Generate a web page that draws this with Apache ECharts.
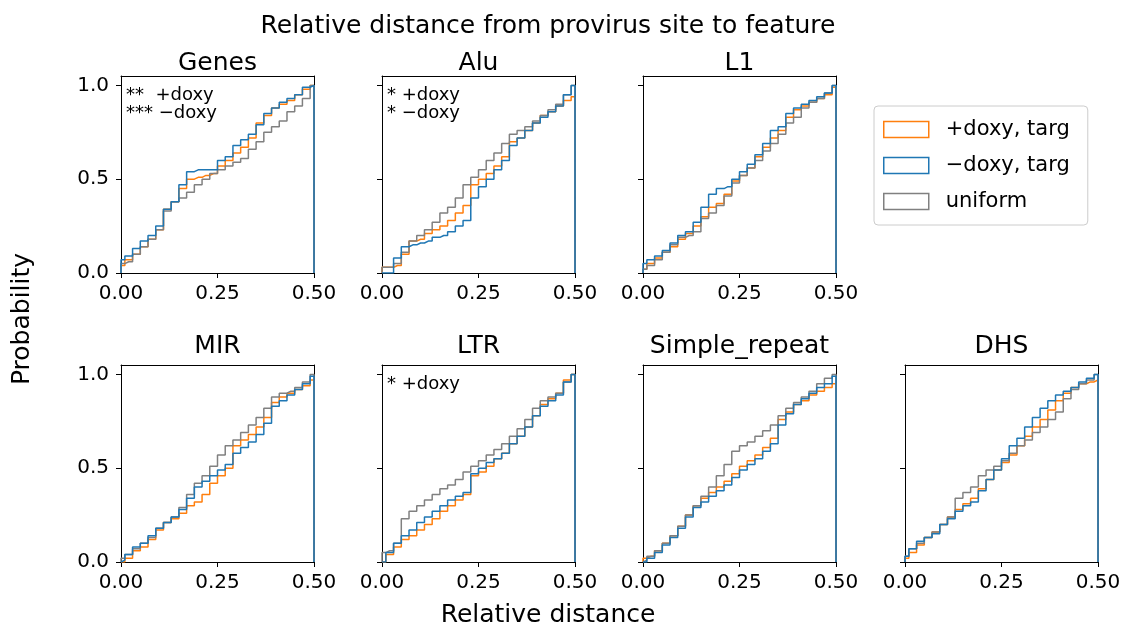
<!DOCTYPE html>
<html>
<head>
<meta charset="utf-8">
<title>Relative distance from provirus site to feature</title>
<script src="https://cdn.jsdelivr.net/npm/echarts@6/dist/echarts.min.js"></script>
<style>
html, body { margin: 0; padding: 0; background: #fff; }
#chart { width: 1131px; height: 628px; }
</style>
</head>
<body>
<div id="chart"></div>
<script>
// bin positions (relative distance) and axis ticks
const binX = [0.00, 0.02, 0.04, 0.06, 0.08, 0.10, 0.12, 0.14, 0.16, 0.18, 0.20, 0.22, 0.24,
              0.26, 0.28, 0.30, 0.32, 0.34, 0.36, 0.38, 0.40, 0.42, 0.44, 0.46, 0.48, 0.50];
const xTicks = [0, 0.25, 0.5];
const yTicks = [0, 0.5, 1.0];

const seriesNames = ['+doxy, targ', '\u2212doxy, targ', 'uniform'];

// cumulative probability per bin
const genesPlus    = [0.04, 0.07, 0.10, 0.14, 0.18, 0.23, 0.34, 0.38, 0.45, 0.50, 0.51, 0.52, 0.53, 0.57, 0.60, 0.64, 0.67, 0.72, 0.80, 0.84, 0.88, 0.90, 0.92, 0.95, 0.98, 1.00];
const genesMinus   = [0.07, 0.09, 0.13, 0.17, 0.20, 0.25, 0.34, 0.38, 0.47, 0.54, 0.55, 0.55, 0.55, 0.60, 0.62, 0.68, 0.71, 0.74, 0.79, 0.85, 0.88, 0.91, 0.93, 0.95, 0.99, 1.00];
const genesUniform = [0.05, 0.06, 0.10, 0.14, 0.18, 0.23, 0.33, 0.38, 0.40, 0.43, 0.47, 0.50, 0.53, 0.55, 0.57, 0.59, 0.61, 0.66, 0.70, 0.75, 0.78, 0.81, 0.86, 0.89, 0.93, 1.00];

const aluPlus    = [0.03, 0.03, 0.04, 0.10, 0.17, 0.18, 0.21, 0.23, 0.25, 0.28, 0.32, 0.36, 0.47, 0.50, 0.53, 0.57, 0.62, 0.70, 0.72, 0.76, 0.80, 0.84, 0.86, 0.89, 0.92, 0.94];
const aluMinus   = [0.00, 0.00, 0.08, 0.14, 0.15, 0.16, 0.17, 0.19, 0.20, 0.22, 0.25, 0.28, 0.40, 0.46, 0.50, 0.55, 0.60, 0.68, 0.72, 0.76, 0.80, 0.83, 0.86, 0.89, 0.95, 1.00];
const aluUniform = [0.03, 0.03, 0.05, 0.11, 0.17, 0.20, 0.23, 0.27, 0.32, 0.35, 0.40, 0.47, 0.51, 0.55, 0.60, 0.64, 0.69, 0.74, 0.76, 0.78, 0.81, 0.84, 0.87, 0.90, 0.95, 1.00];

const l1Plus    = [0.02, 0.05, 0.08, 0.11, 0.14, 0.18, 0.21, 0.25, 0.30, 0.35, 0.37, 0.42, 0.49, 0.52, 0.56, 0.62, 0.67, 0.72, 0.76, 0.83, 0.87, 0.89, 0.91, 0.93, 0.95, 0.99];
const l1Minus   = [0.05, 0.07, 0.09, 0.12, 0.16, 0.20, 0.22, 0.27, 0.35, 0.42, 0.45, 0.46, 0.50, 0.54, 0.58, 0.63, 0.69, 0.76, 0.78, 0.85, 0.88, 0.90, 0.92, 0.94, 0.96, 1.00];
const l1Uniform = [0.02, 0.04, 0.07, 0.11, 0.15, 0.19, 0.20, 0.22, 0.29, 0.32, 0.36, 0.41, 0.48, 0.52, 0.56, 0.60, 0.65, 0.69, 0.74, 0.80, 0.83, 0.88, 0.91, 0.93, 0.96, 1.00];

const mirPlus    = [0.00, 0.02, 0.06, 0.08, 0.12, 0.17, 0.21, 0.23, 0.26, 0.30, 0.32, 0.36, 0.42, 0.46, 0.50, 0.62, 0.65, 0.68, 0.72, 0.77, 0.85, 0.88, 0.90, 0.92, 0.94, 0.97];
const mirMinus   = [0.01, 0.04, 0.08, 0.10, 0.14, 0.18, 0.21, 0.24, 0.28, 0.34, 0.40, 0.43, 0.46, 0.49, 0.52, 0.58, 0.61, 0.64, 0.68, 0.74, 0.83, 0.86, 0.89, 0.92, 0.95, 0.99];
const mirUniform = [0.02, 0.04, 0.07, 0.10, 0.13, 0.18, 0.21, 0.24, 0.29, 0.36, 0.42, 0.46, 0.51, 0.57, 0.62, 0.65, 0.69, 0.73, 0.77, 0.82, 0.88, 0.90, 0.91, 0.93, 0.96, 1.00];

const ltrPlus    = [0.00, 0.04, 0.08, 0.12, 0.14, 0.17, 0.20, 0.23, 0.27, 0.30, 0.33, 0.36, 0.46, 0.48, 0.51, 0.55, 0.58, 0.63, 0.67, 0.72, 0.78, 0.84, 0.87, 0.90, 0.97, 1.00];
const ltrMinus   = [0.00, 0.05, 0.10, 0.14, 0.17, 0.21, 0.24, 0.27, 0.30, 0.33, 0.35, 0.37, 0.47, 0.50, 0.53, 0.55, 0.58, 0.63, 0.67, 0.72, 0.78, 0.83, 0.86, 0.89, 0.96, 1.00];
const ltrUniform = [0.05, 0.06, 0.10, 0.23, 0.27, 0.30, 0.33, 0.36, 0.39, 0.41, 0.44, 0.48, 0.51, 0.54, 0.57, 0.60, 0.63, 0.67, 0.71, 0.76, 0.82, 0.86, 0.88, 0.90, 0.96, 1.00];

const srPlus    = [0.02, 0.03, 0.06, 0.10, 0.14, 0.19, 0.25, 0.30, 0.34, 0.37, 0.40, 0.43, 0.47, 0.51, 0.54, 0.57, 0.61, 0.66, 0.76, 0.80, 0.84, 0.86, 0.89, 0.91, 0.93, 0.95];
const srMinus   = [0.00, 0.02, 0.05, 0.09, 0.13, 0.18, 0.24, 0.29, 0.32, 0.35, 0.38, 0.41, 0.45, 0.49, 0.52, 0.55, 0.59, 0.63, 0.73, 0.79, 0.84, 0.87, 0.90, 0.93, 0.95, 0.99];
const srUniform = [0.01, 0.03, 0.06, 0.10, 0.14, 0.19, 0.25, 0.30, 0.35, 0.40, 0.46, 0.52, 0.59, 0.62, 0.64, 0.67, 0.70, 0.73, 0.78, 0.82, 0.85, 0.88, 0.91, 0.95, 0.98, 1.00];

const dhsPlus    = [0.02, 0.05, 0.09, 0.13, 0.16, 0.20, 0.24, 0.28, 0.31, 0.34, 0.39, 0.44, 0.49, 0.53, 0.57, 0.62, 0.67, 0.72, 0.76, 0.81, 0.86, 0.90, 0.93, 0.95, 0.96, 0.97];
const dhsMinus   = [0.03, 0.07, 0.11, 0.13, 0.15, 0.20, 0.23, 0.27, 0.30, 0.32, 0.38, 0.44, 0.49, 0.55, 0.62, 0.66, 0.72, 0.77, 0.82, 0.86, 0.89, 0.91, 0.93, 0.96, 0.98, 1.00];
const dhsUniform = [0.03, 0.07, 0.10, 0.13, 0.16, 0.20, 0.24, 0.34, 0.37, 0.40, 0.46, 0.49, 0.51, 0.54, 0.58, 0.62, 0.65, 0.69, 0.72, 0.76, 0.80, 0.87, 0.92, 0.95, 0.97, 1.00];

const FONT = '"DejaVu Sans", "Liberation Sans", sans-serif';
const colors = ['#ff7f0e', '#1f77b4', '#808080'];
const colLeft = [121, 382, 643, 905];
const rowTop = [76, 365];
const W = 193, H = 197;

const panels = [
    { name: 'Genes', data: [genesPlus, genesMinus, genesUniform], row: 0, col: 0, notes: ['**  +doxy', '*** \u2212doxy'] },
    { name: 'Alu', data: [aluPlus, aluMinus, aluUniform], row: 0, col: 1, notes: ['* +doxy', '* \u2212doxy'] },
    { name: 'L1', data: [l1Plus, l1Minus, l1Uniform], row: 0, col: 2, notes: [] },
    { name: 'MIR', data: [mirPlus, mirMinus, mirUniform], row: 1, col: 0, notes: [] },
    { name: 'LTR', data: [ltrPlus, ltrMinus, ltrUniform], row: 1, col: 1, notes: ['* +doxy'] },
    { name: 'Simple_repeat', data: [srPlus, srMinus, srUniform], row: 1, col: 2, notes: [] },
    { name: 'DHS', data: [dhsPlus, dhsMinus, dhsUniform], row: 1, col: 3, notes: [] }
];

// step outline like a matplotlib 'step' histogram: up at 0, down at 0.5
function stepPoints(values) {
    var pts = [[binX[0], 0]];
    for (var i = 0; i < values.length; i++) pts.push([binX[i], values[i]]);
    pts.push([binX[binX.length - 1], 0]);
    return pts;
}

function txt(x, y, text, size, extra) {
    return Object.assign({
        type: 'text', x: x, y: y, silent: true,
        style: {
            text: text, fill: '#000', fontSize: size, fontFamily: FONT,
            align: 'center', verticalAlign: 'middle',
            textAlign: 'center', textVerticalAlign: 'middle'
        }
    }, extra || {});
}

var spine = { show: true, onZero: false, lineStyle: { color: '#000', width: 1 } };
var tick = { show: true, length: 5, lineStyle: { color: '#000', width: 1 } };

var grids = [], xAxes = [], yAxes = [], series = [];
var graphics = [
    txt(548, 26, 'Relative distance from provirus site to feature', 25),
    txt(548, 615, 'Relative distance', 25),
    txt(22, 319, 'Probability', 25, { rotation: Math.PI / 2 })
];

panels.forEach(function (p, i) {
    var left = colLeft[p.col], top = rowTop[p.row];
    grids.push({ left: left, top: top, width: W, height: H });
    // bottom + top spines
    xAxes.push({
        gridIndex: i, type: 'value', position: 'bottom', min: 0, max: 0.5, interval: 0.25,
        axisLine: spine, axisTick: tick,
        axisLabel: { fontSize: 20, fontFamily: FONT, color: '#000', margin: 11,
                     formatter: function (v) { return v.toFixed(2); } },
        splitLine: { show: false }
    });
    xAxes.push({
        gridIndex: i, type: 'value', position: 'top', min: 0, max: 0.5,
        axisLine: spine, axisTick: { show: false }, axisLabel: { show: false }, splitLine: { show: false }
    });
    // left + right spines
    yAxes.push({
        gridIndex: i, type: 'value', position: 'left', min: 0, max: 1.05,
        axisLine: spine,
        axisTick: Object.assign({ customValues: yTicks }, tick),
        axisLabel: { show: p.col === 0, customValues: yTicks, fontSize: 20, fontFamily: FONT,
                     color: '#000', margin: 12,
                     formatter: function (v) { return v.toFixed(1); } },
        splitLine: { show: false }
    });
    yAxes.push({
        gridIndex: i, type: 'value', position: 'right', min: 0, max: 1.05,
        axisLine: spine, axisTick: { show: false }, axisLabel: { show: false }, splitLine: { show: false }
    });
    p.data.forEach(function (vals, k) {
        series.push({
            type: 'line', name: seriesNames[k], xAxisIndex: 2 * i, yAxisIndex: 2 * i,
            data: stepPoints(vals), step: 'middle', symbol: 'none', showSymbol: false,
            lineStyle: { color: colors[k], width: 1.5 }, itemStyle: { color: colors[k] },
            emphasis: { disabled: true }, z: 2 + (k === 1 ? 1 : 0)
        });
    });
    graphics.push(txt(left + W / 2, p.row === 0 ? 63 : 346, p.name, 25));
    p.notes.forEach(function (n, j) {
        graphics.push({
            type: 'text', x: left + 5, y: top + 19 + j * 18, silent: true,
            style: { text: n, fill: '#000', fontSize: 18, fontFamily: FONT,
                     align: 'left', verticalAlign: 'middle',
                     textAlign: 'left', textVerticalAlign: 'middle' }
        });
    });
});

var chart = echarts.init(document.getElementById('chart'));
chart.setOption({
    animation: false,
    backgroundColor: '#fff',
    textStyle: { fontFamily: FONT },
    grid: grids,
    xAxis: xAxes,
    yAxis: yAxes,
    legend: {
        orient: 'vertical', left: 874, top: 106,
        padding: [13, 18, 13, 9],
        itemWidth: 45, itemHeight: 16, itemGap: 15,
        selectedMode: false,
        borderColor: '#cccccc', borderWidth: 1, borderRadius: 4, backgroundColor: '#fff',
        textStyle: { fontSize: 21, fontFamily: FONT, color: '#000', padding: [0, 0, 0, 12], lineHeight: 16 },
        data: seriesNames.map(function (n, k) {
            return { name: n, icon: 'rect',
                     itemStyle: { color: '#fff', borderColor: colors[k], borderWidth: 1.5 } };
        })
    },
    graphic: graphics,
    series: series
});
</script>
</body>
</html>
